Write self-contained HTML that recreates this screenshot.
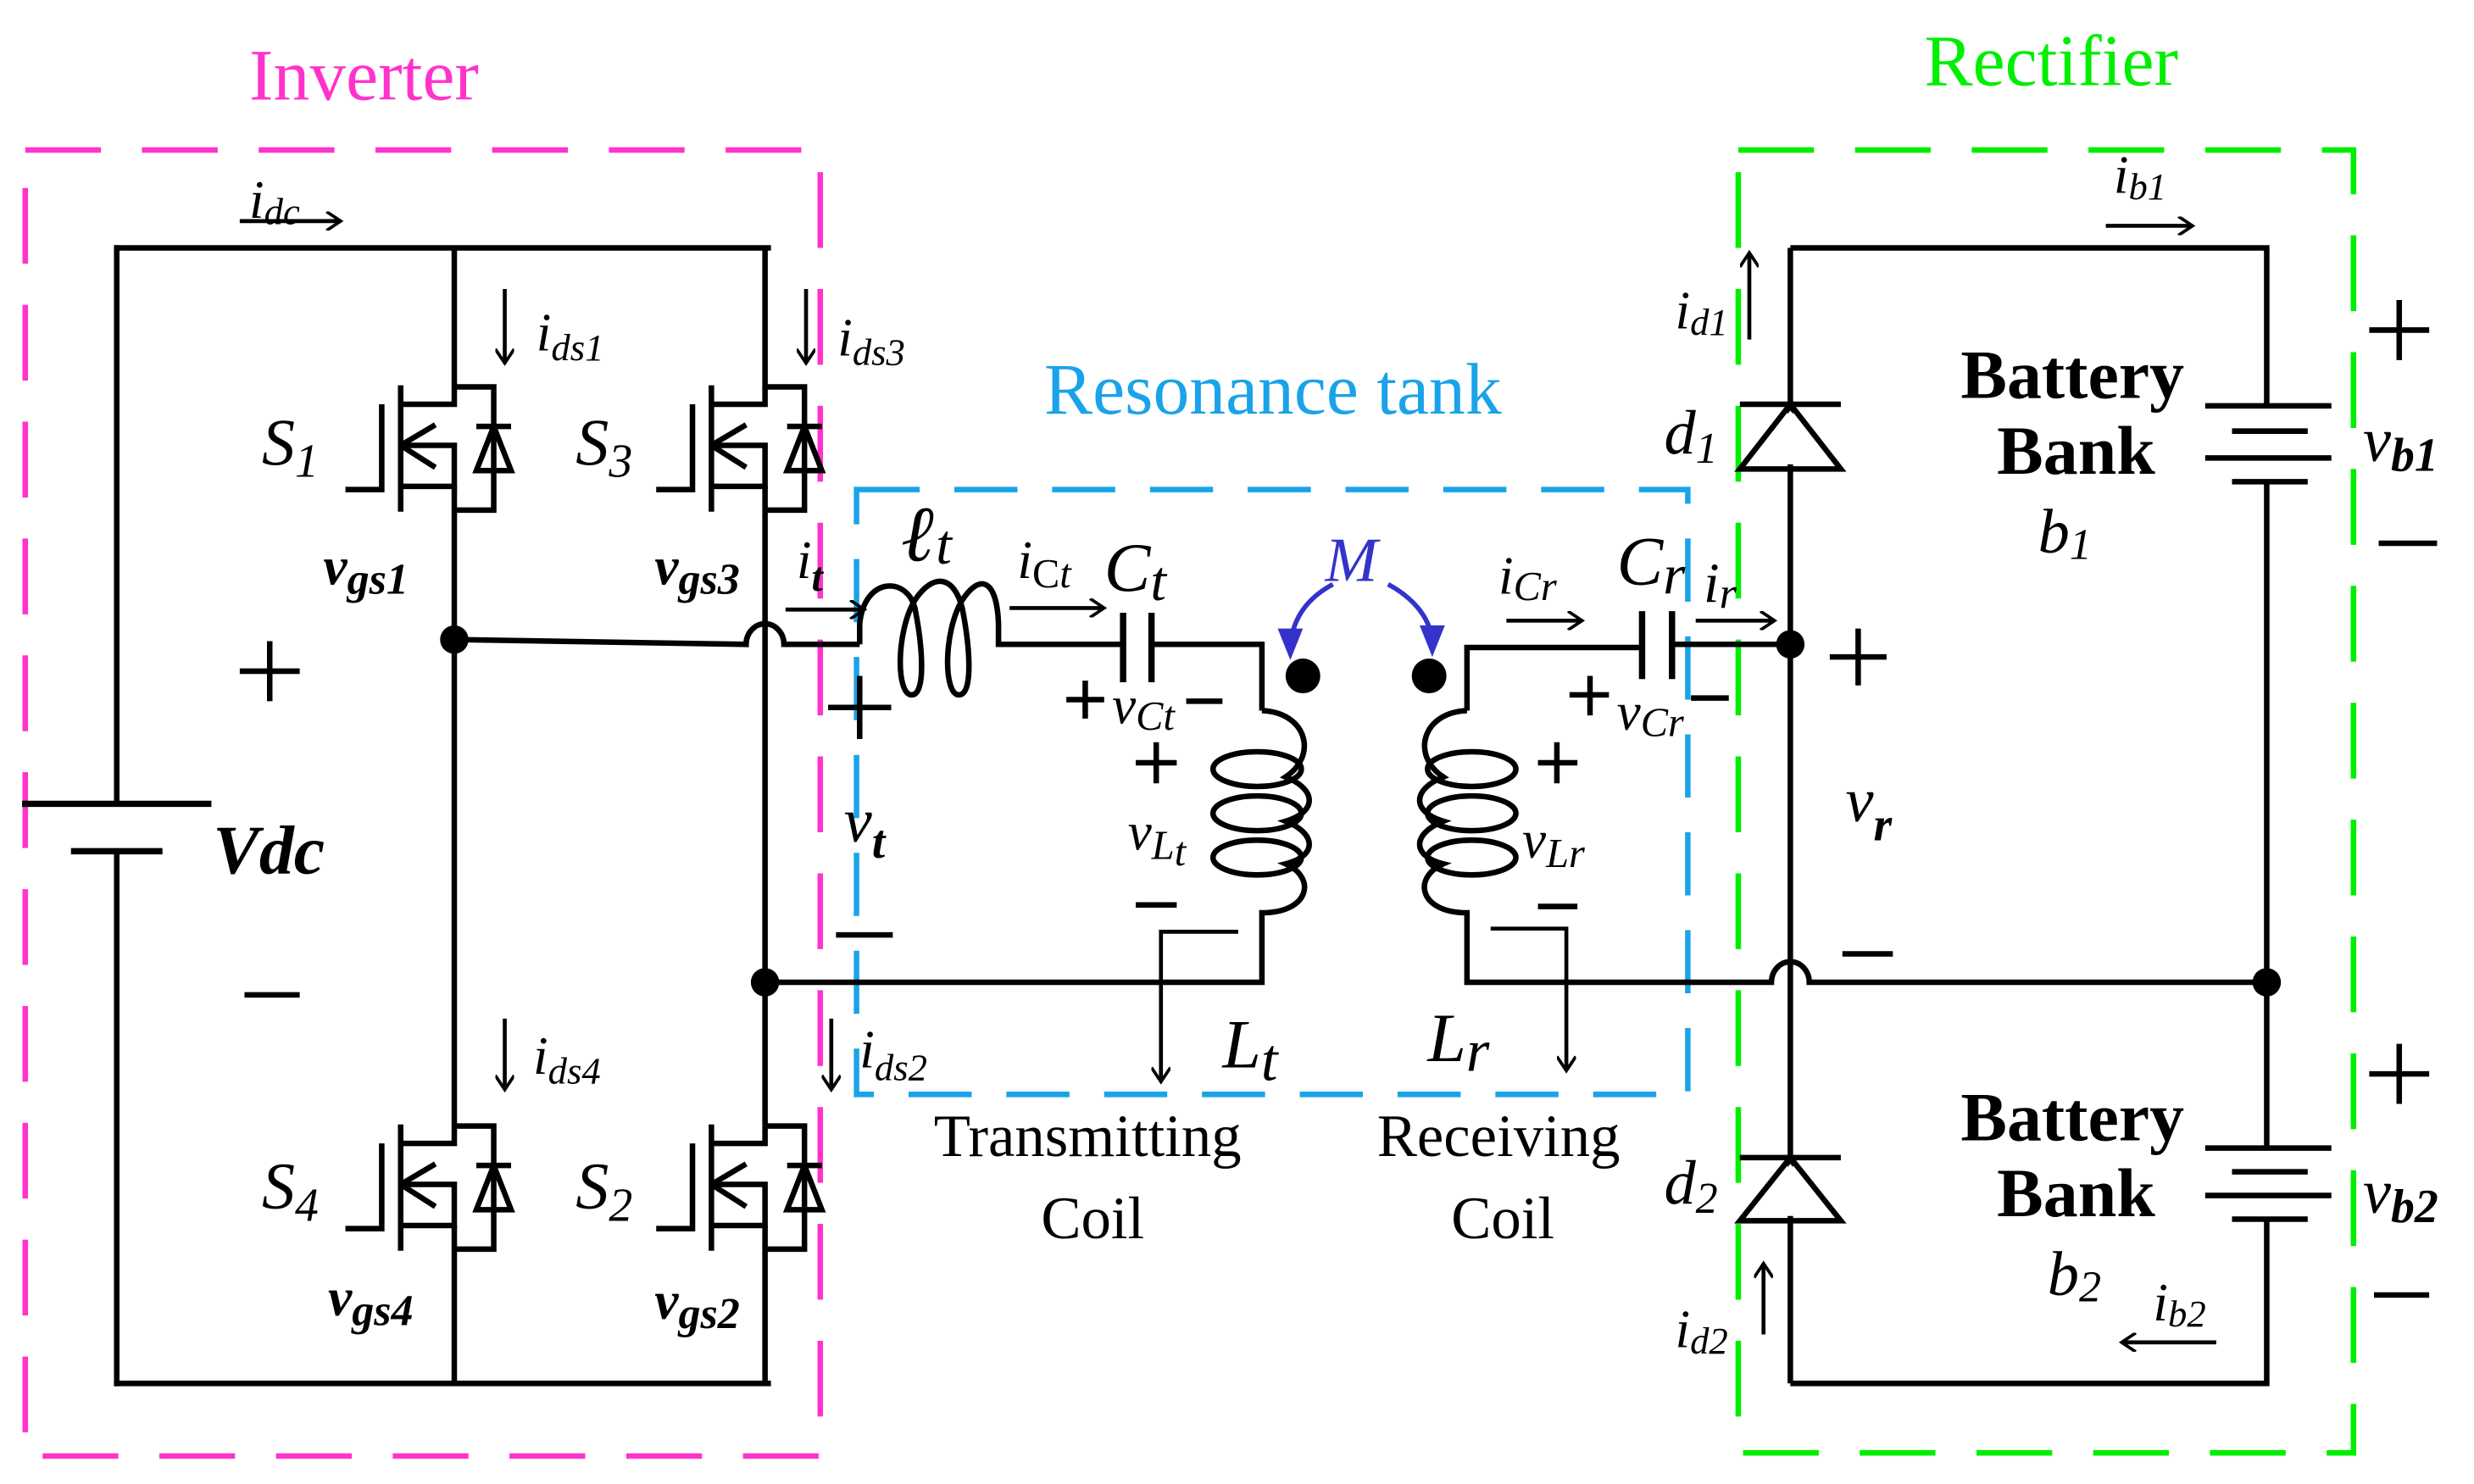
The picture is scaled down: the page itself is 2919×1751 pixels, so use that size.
<!DOCTYPE html>
<html><head><meta charset="utf-8"><style>
html,body{margin:0;padding:0;background:#fff;}
svg{display:block;}
text{font-family:"Liberation Serif",serif;fill:#000;}
.it{font-style:italic;}
.bi{font-style:italic;font-weight:bold;}
.b{font-weight:bold;}
</style></head><body>
<svg width="2919" height="1751" viewBox="0 0 1559 935" preserveAspectRatio="none" xmlns="http://www.w3.org/2000/svg">
<defs>
<marker id="ar" markerWidth="12" markerHeight="12" refX="10" refY="6" orient="auto" markerUnits="userSpaceOnUse">
<path d="M1,0 L10,6 L1,12" fill="none" stroke="#000" stroke-width="2"/>
</marker>
</defs>
<g transform="scale(0.994 0.995)">
<!-- dashed boxes -->
<rect x="16" y="95" width="504" height="827" fill="none" stroke="#ff33cc" stroke-width="3.5" stroke-dasharray="48,26"/>
<rect x="1102" y="95" width="390" height="825" fill="none" stroke="#00ee00" stroke-width="3.5" stroke-dasharray="48,26"/>
<rect x="543" y="310" width="527" height="383" fill="none" stroke="#1aa3e8" stroke-width="3.5" stroke-dasharray="40,22"/>

<text x="158" y="63" font-size="46" style="fill:#ff33cc">Inverter</text>
<text x="1220" y="54" font-size="46" style="fill:#00ee00">Rectifier</text>
<text x="662" y="262" font-size="46" style="fill:#1aa3e8">Resonance tank</text>

<g stroke="#000" stroke-width="3.5" fill="none" stroke-linecap="square">
<path d="M74,157 H487 M74,876 H487"/>
<path d="M74,157 V509 M74,539 V876"/>
<path d="M16,509 H132 M47,539 H101" stroke-width="4"/>
</g>

<!-- MOSFETs -->
<g stroke="#000" stroke-width="3.5" fill="none">
<g id="m1" transform="translate(288,245)">
<path d="M0,0 H25 V78 H0"/>
<path d="M0,0 V11 H-34"/>
<path d="M-34,-1 V79"/>
<path d="M-46,11 V65 H-69"/>
<path d="M-34,37 H0 V63 H-34"/>
<path d="M-34,37 L-12,24 M-34,37 L-12,51"/>
<path d="M14,25 H36 M25,25 L14,53 H36 Z"/>
</g>
<use href="#m1" x="197" y="0"/>
<use href="#m1" x="0" y="468"/>
<use href="#m1" x="197" y="468"/>
</g>
<g stroke="#000" stroke-width="3.5" fill="none">
<path d="M288,157 V245 M485,157 V245 M288,308 V713 M485,308 V713 M288,776 V876 M485,776 V876"/>
</g>

<!-- node dots -->
<circle cx="288" cy="405" r="9"/>
<circle cx="485" cy="622" r="9"/>
<circle cx="1135" cy="408" r="9"/>
<circle cx="1437" cy="622" r="9"/>
<circle cx="826" cy="428" r="11"/>
<circle cx="906" cy="428" r="11"/>

<g stroke="#000" stroke-width="3.5" fill="none">
<path d="M288,405 L473,408 A12,13 0 0 1 497,408 H545"/>
<path d="M545,408 V395 C548,365 575,365 580,385 C585,410 587,440 578,440 C568,440 568,400 580,380 C592,362 605,365 610,385 C615,410 617,440 608,440 C598,440 598,400 610,380 C622,362 632,368 633,395 V408 H712"/>
<path d="M712,388 V432 M730,388 V432" stroke-width="4"/>
<path d="M730,408 H800 V450"/>
<!-- Lt coil -->
<path d="M800,450 C828,451 836,478 815,492 C835,500 835,514 815,520 C835,528 835,542 815,547 C835,556 830,578 800,578 V622 H485"/>
<ellipse cx="797" cy="487" rx="28" ry="11"/>
<ellipse cx="797" cy="515" rx="28" ry="11"/>
<ellipse cx="797" cy="543" rx="28" ry="11"/>
<!-- Lr coil -->
<path d="M930,450 C902,451 894,478 915,492 C895,500 895,514 915,520 C895,528 895,542 915,547 C895,556 900,578 930,578 V622 H1123 A12,13 0 0 1 1147,622 H1437"/>
<ellipse cx="933" cy="487" rx="28" ry="11"/>
<ellipse cx="933" cy="515" rx="28" ry="11"/>
<ellipse cx="933" cy="543" rx="28" ry="11"/>
<path d="M930,450 V410 H1040"/>
<path d="M1041,387 V430 M1060,387 V430" stroke-width="4"/>
<path d="M1060,408 H1135"/>
<!-- rectifier -->
<path d="M1135,157 H1437 V257 M1437,305 V727 M1437,772 V876 H1135"/>
<path d="M1135,157 V876"/>
<path d="M1103,256 H1167 M1135,256 L1103,297 H1167 Z"/>
<path d="M1103,733 H1167 M1135,733 L1103,773 H1167 Z"/>
<path d="M1398,257 H1478 M1415,273 H1463 M1398,290 H1478 M1415,305 H1463"/>
<path d="M1398,727 H1478 M1415,742 H1463 M1398,757 H1478 M1415,772 H1463"/>
</g>
<path d="M1135,260 L1108,294 H1162 Z M1135,737 L1108,770 H1162 Z" fill="#fff"/>

<!-- current arrows -->
<g stroke="#000" stroke-width="2.5" fill="none" marker-end="url(#ar)">
<path d="M152,140 H216"/>
<path d="M320,183 V230"/>
<path d="M511,183 V230"/>
<path d="M320,645 V690"/>
<path d="M527,645 V690"/>
<path d="M498,386 H548"/>
<path d="M640,385 H700"/>
<path d="M955,393 H1003"/>
<path d="M1075,393 H1125"/>
<path d="M1335,143 H1390"/>
<path d="M1405,850 H1345"/>
<path d="M1109,215 V160"/>
<path d="M1118,845 V800"/>
<path d="M785,590 H736 V685"/>
<path d="M945,588 H993 V678"/>
</g>
<g stroke="#3333cc" stroke-width="3" fill="none">
<path d="M845,370 C830,378 820,390 818,408"/>
<path d="M880,370 C895,378 906,390 908,405"/>
</g>
<path d="M810,398 L818,418 L826,398 Z M900,396 L908,416 L916,396 Z" fill="#3333cc"/>

<g font-size="34">
<text x="158" y="138" class="it">i<tspan font-size="24" dy="4">dc</tspan></text>
<text x="340" y="222" class="it">i<tspan font-size="24" dy="6">ds1</tspan></text>
<text x="531" y="225" class="it">i<tspan font-size="24" dy="6">ds3</tspan></text>
<text x="338" y="680" class="it">i<tspan font-size="24" dy="6">ds4</tspan></text>
<text x="545" y="676" class="it">i<tspan font-size="24" dy="8">ds2</tspan></text>
<text x="166" y="294" font-size="42" class="it">S<tspan font-size="30" dy="8">1</tspan></text>
<text x="365" y="294" font-size="42" class="it">S<tspan font-size="30" dy="8">3</tspan></text>
<text x="166" y="765" font-size="42" class="it">S<tspan font-size="30" dy="8">4</tspan></text>
<text x="365" y="765" font-size="42" class="it">S<tspan font-size="30" dy="8">2</tspan></text>
<text x="205" y="370" class="bi">v<tspan font-size="28" dy="6">gs1</tspan></text>
<text x="415" y="370" class="bi">v<tspan font-size="28" dy="6">gs3</tspan></text>
<text x="208" y="833" class="bi">v<tspan font-size="28" dy="6">gs4</tspan></text>
<text x="415" y="835" class="bi">v<tspan font-size="28" dy="6">gs2</tspan></text>
<text x="505" y="366" class="it">i<tspan font-size="26" dy="8" class="bi">t</tspan></text>
<text x="135" y="553" font-size="44" class="bi">Vdc</text>
<text x="572" y="355" font-size="50" class="bi">ℓ<tspan font-size="36" dy="2" class="it" font-weight="normal">t</tspan></text>
<text x="645" y="366" class="it">i<tspan font-size="26" dy="6" font-style="normal">C</tspan><tspan font-size="26">t</tspan></text>
<text x="700" y="374" font-size="44" class="it">C<tspan font-size="36" dy="6">t</tspan></text>
<text x="705" y="458" class="it">v<tspan font-size="26" dy="4">Ct</tspan></text>
<text x="535" y="533" font-size="40" class="it">v<tspan font-size="30" dy="10" class="bi">t</tspan></text>
<text x="715" y="538" class="it">v<tspan font-size="26" dy="6">L</tspan><tspan font-size="26" dy="4">t</tspan></text>
<text x="775" y="676" font-size="44" class="it">L<tspan font-size="38" dy="8">t</tspan></text>
<text x="840" y="368" font-size="40" class="it" style="fill:#3333cc">M</text>
<text x="950" y="376" class="it">i<tspan font-size="26" dy="4">Cr</tspan></text>
<text x="1025" y="370" font-size="44" class="it">C<tspan font-size="36" dy="6">r</tspan></text>
<text x="1080" y="381" font-size="36" class="it">i<tspan font-size="28" dy="4">r</tspan></text>
<text x="1025" y="462" class="it">v<tspan font-size="26" dy="4">Cr</tspan></text>
<text x="965" y="543" class="it">v<tspan font-size="26" dy="6">Lr</tspan></text>
<text x="905" y="672" font-size="44" class="it">L<tspan font-size="38" dy="6">r</tspan></text>
<text x="592" y="732" font-size="38">Transmitting</text>
<text x="660" y="784" font-size="38">Coil</text>
<text x="873" y="732" font-size="38">Receiving</text>
<text x="920" y="784" font-size="38">Coil</text>
<text x="1062" y="208" class="it">i<tspan font-size="24" dy="4">d1</tspan></text>
<text x="1062" y="853" class="it">i<tspan font-size="24" dy="4">d2</tspan></text>
<text x="1055" y="287" font-size="40" class="it">d<tspan font-size="28" dy="6">1</tspan></text>
<text x="1055" y="762" font-size="40" class="it">d<tspan font-size="28" dy="6">2</tspan></text>
<text x="1170" y="520" font-size="40" class="it">v<tspan font-size="30" dy="12" class="bi">r</tspan></text>
<text x="1243" y="252" font-size="44" class="b">Battery</text>
<text x="1266" y="300" font-size="44" class="b">Bank</text>
<text x="1292" y="350" font-size="40" class="it">b<tspan font-size="28" dy="4">1</tspan></text>
<text x="1243" y="722" font-size="44" class="b">Battery</text>
<text x="1266" y="770" font-size="44" class="b">Bank</text>
<text x="1298" y="820" font-size="40" class="it">b<tspan font-size="28" dy="4">2</tspan></text>
<text x="1340" y="122" class="it">i<tspan font-size="24" dy="4">b1</tspan></text>
<text x="1365" y="836" class="it">i<tspan font-size="24" dy="4">b2</tspan></text>
<text x="1498" y="292" font-size="40" class="it">v<tspan font-size="30" dy="6" class="bi">b1</tspan></text>
<text x="1498" y="768" font-size="40" class="it">v<tspan font-size="30" dy="6" class="bi">b2</tspan></text>
</g>

<g stroke="#000" stroke-width="3.5">
<path d="M152,425 H190 M171,406 V444"/>
<path d="M155,630 H190"/>
<path d="M525,448 H565 M545,428 V468"/>
<path d="M530,592 H566"/>
<path d="M676,443 H700 M688,431 V455"/>
<path d="M752,444 H775"/>
<path d="M720,483 H746 M733,470 V496"/>
<path d="M720,573 H746"/>
<path d="M995,440 H1020 M1008,428 V453"/>
<path d="M1072,442 H1096"/>
<path d="M975,483 H1000 M987,470 V496"/>
<path d="M975,574 H1000"/>
<path d="M1160,416 H1196 M1178,398 V434"/>
<path d="M1168,604 H1200"/>
<path d="M1502,209 H1540 M1521,190 V228"/>
<path d="M1508,344 H1545"/>
<path d="M1502,680 H1540 M1521,661 V699"/>
<path d="M1505,820 H1540"/>
</g>
</g>
</svg>
</body></html>
